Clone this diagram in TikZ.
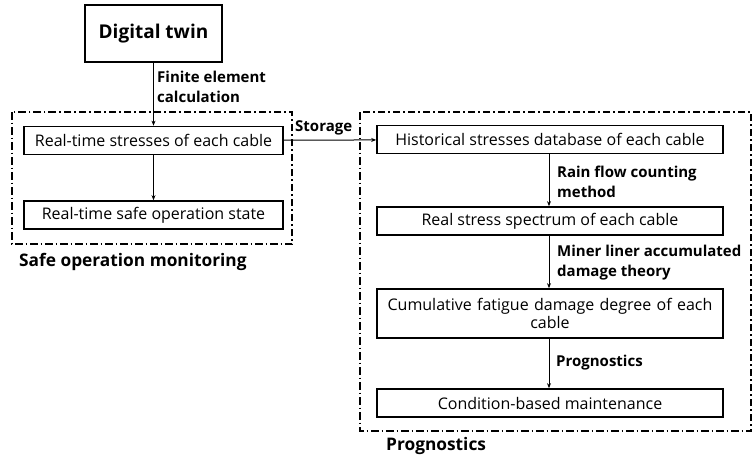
\documentclass[tikz,border=0pt]{standalone}
\usepackage{fontspec}
\setmainfont{Open Sans}
\usetikzlibrary{arrows.meta}
\begin{document}
\begin{tikzpicture}[x=1pt,y=-1pt,
  box/.style={draw,line width=1.7pt,minimum height=28pt,inner sep=2pt,font=\fontsize{16}{18.5}\selectfont,align=center},
  grp/.style={draw,line width=1.3pt,dash pattern=on 7.5pt off 3pt on 1.5pt off 3pt},
  arr/.style={-{Stealth[length=5pt,width=4pt]},line width=1pt},
  lab/.style={font=\bfseries\fontsize{15}{20}\selectfont,align=left,anchor=west,inner sep=0pt}]
\useasboundingbox (0,0) rectangle (756,459);
\node[draw,line width=2pt,minimum width=137pt,minimum height=57pt,font=\bfseries\fontsize{19}{24}\selectfont] (dt) at (153.5,33.5) {Digital twin};
\node[box,minimum width=259pt] (rts) at (153.5,140.5) {Real-time stresses of each cable};
\node[box,minimum width=259pt] (rss) at (153.5,215) {Real-time safe operation state};
\node[box,minimum width=346pt] (hsd) at (550,139.5) {Historical stresses database of each cable};
\node[box,minimum width=346pt] (rsp) at (550,221) {Real stress spectrum of each cable};
\node[box,minimum width=346pt,minimum height=49pt,text width=336pt] (cfd) at (550,313.5) {Cumulative fatigue damage degree of each\\cable};
\node[box,minimum width=346pt] (cbm) at (550,403) {Condition-based maintenance};
\draw[grp] (12,112) rectangle (292,244);
\draw[grp] (360,112) rectangle (751,431);
\draw[arr] (dt) -- (rts);
\draw[arr] (rts) -- (rss);
\draw[arr] (rts) -- (hsd);
\draw[arr] (hsd.south -| 549,0) -- (rsp.north -| 549,0);
\draw[arr] (rsp.south -| 549,0) -- (cfd.north -| 549,0);
\draw[arr] (cfd.south -| 549,0) -- (cbm.north -| 549,0);
\node[lab] (l1) at (157,87) {Finite element\\calculation};
\node[lab] (l2) at (295,128) {Storage};
\node[lab] (l3) at (557,182) {Rain flow counting\\method};
\node[lab] (l4) at (557,263) {Miner liner accumulated\\damage theory};
\node[lab] (l5) at (556,363) {Prognostics};
\node[lab,font=\bfseries\fontsize{17.3}{20}\selectfont] (g1) at (19,262) {Safe operation monitoring};
\node[lab,font=\bfseries\fontsize{17.3}{20}\selectfont] (g2) at (386,446) {Prognostics};
\end{tikzpicture}
\end{document}
